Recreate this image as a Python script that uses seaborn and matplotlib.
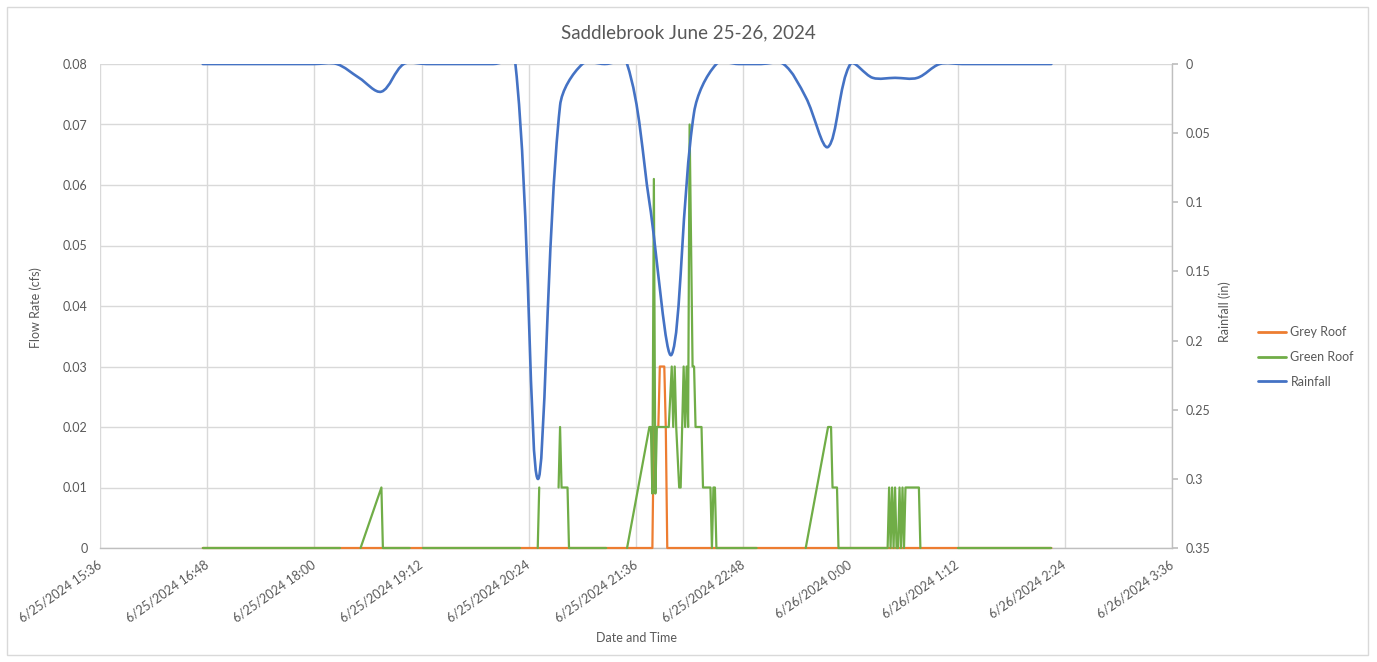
import numpy as np
import pandas as pd
import matplotlib
matplotlib.use("Agg")
import matplotlib.pyplot as plt
import matplotlib.dates as mdates
from matplotlib.path import Path
from matplotlib.patches import PathPatch, Rectangle
from matplotlib.lines import Line2D
import seaborn as sns

# ---------------- data ----------------
title = "Saddlebrook June 25-26, 2024"

# Rainfall (in), 15-minute readings from 6/25 16:45 to 6/26 02:15
rain_times = pd.date_range("2024-06-25 16:45", "2024-06-26 02:15", freq="15min")
rain_in = [0, 0, 0, 0, 0, 0, 0, 0.01, 0.02, 0,
           0, 0, 0, 0, 0, 0.30, 0.03, 0, 0, 0,
           0.10, 0.21, 0.035, 0, 0, 0, 0, 0.024, 0.06, 0,
           0.01, 0.01, 0.01, 0, 0, 0, 0, 0, 0]

# Grey roof flow (cfs)
grey_times = ["2024-06-25 16:45", "2024-06-25 21:47", "2024-06-25 21:48",
              "2024-06-25 21:51", "2024-06-25 21:52", "2024-06-25 21:55",
              "2024-06-25 21:56", "2024-06-25 21:57", "2024-06-26 02:15"]
grey_cfs = [0, 0, 0.02, 0.02, 0.03, 0.03, 0.02, 0, 0]

# Green roof flow (cfs); NaN marks a break in the record
green_times = ["2024-06-25 16:45", "2024-06-25 18:17", None,
               "2024-06-25 18:31", "2024-06-25 18:45", "2024-06-25 18:46", "2024-06-25 19:04", None,
               "2024-06-25 19:13", "2024-06-25 20:18", None,
               "2024-06-25 20:30", "2024-06-25 20:31", None,
               "2024-06-25 20:44", "2024-06-25 20:45", "2024-06-25 20:46", "2024-06-25 20:50",
               "2024-06-25 20:51", "2024-06-25 21:16", None,
               "2024-06-25 21:30", "2024-06-25 21:45", "2024-06-25 21:46", "2024-06-25 21:47",
               "2024-06-25 21:48", "2024-06-25 21:49", "2024-06-25 21:50", "2024-06-25 21:58",
               "2024-06-25 22:00", "2024-06-25 22:01", "2024-06-25 22:02", "2024-06-25 22:03",
               "2024-06-25 22:05", "2024-06-25 22:06", "2024-06-25 22:07", "2024-06-25 22:08",
               "2024-06-25 22:09", "2024-06-25 22:10", "2024-06-25 22:11", "2024-06-25 22:12",
               "2024-06-25 22:14", "2024-06-25 22:15", "2024-06-25 22:16", "2024-06-25 22:20",
               "2024-06-25 22:21", "2024-06-25 22:26", "2024-06-25 22:27", "2024-06-25 22:28",
               "2024-06-25 22:29", "2024-06-25 22:30", "2024-06-25 22:57", None,
               "2024-06-25 23:30", "2024-06-25 23:45", "2024-06-25 23:47", "2024-06-25 23:48",
               "2024-06-25 23:51", "2024-06-25 23:52", "2024-06-26 00:25", "2024-06-26 00:26",
               "2024-06-26 00:27", "2024-06-26 00:28", "2024-06-26 00:29", "2024-06-26 00:30",
               "2024-06-26 00:31", "2024-06-26 00:32", "2024-06-26 00:33", "2024-06-26 00:34",
               "2024-06-26 00:35", "2024-06-26 00:36", "2024-06-26 00:37", "2024-06-26 00:46",
               "2024-06-26 00:47", None,
               "2024-06-26 01:12", "2024-06-26 02:15"]
green_cfs = [0, 0, np.nan,
             0, 0.01, 0, 0, np.nan,
             0, 0, np.nan,
             0, 0.01, np.nan,
             0.01, 0.02, 0.01, 0.01,
             0, 0, np.nan,
             0, 0.02, 0.02, 0.009,
             0.061, 0.009, 0.02, 0.02,
             0.03, 0.02, 0.03, 0.02,
             0.01, 0.01, 0.02, 0.03,
             0.02, 0.03, 0.02, 0.07,
             0.03, 0.03, 0.02, 0.02,
             0.01, 0.01, 0, 0.01,
             0.01, 0, 0, np.nan,
             0, 0.02, 0.02, 0.01,
             0.01, 0, 0, 0.01,
             0, 0.01, 0, 0.01,
             0, 0, 0.01, 0,
             0.01, 0, 0.01, 0.01,
             0, np.nan,
             0, 0]

x_ticks = pd.date_range("2024-06-25 15:36", "2024-06-26 03:36", freq="72min")
x_tick_labels = ["6/25/2024 15:36", "6/25/2024 16:48", "6/25/2024 18:00", "6/25/2024 19:12",
                 "6/25/2024 20:24", "6/25/2024 21:36", "6/25/2024 22:48", "6/26/2024 0:00",
                 "6/26/2024 1:12", "6/26/2024 2:24", "6/26/2024 3:36"]
flow_ticks = [0, 0.01, 0.02, 0.03, 0.04, 0.05, 0.06, 0.07, 0.08]
flow_labels = ["0", "0.01", "0.02", "0.03", "0.04", "0.05", "0.06", "0.07", "0.08"]
rain_ticks = [0, 0.05, 0.1, 0.15, 0.2, 0.25, 0.3, 0.35]
rain_labels = ["0", "0.05", "0.1", "0.15", "0.2", "0.25", "0.3", "0.35"]
series_names = ["Grey Roof", "Green Roof", "Rainfall"]

# ---------------- style ----------------
ORANGE, GREEN, BLUE = "#ED7D31", "#70AD47", "#4472C4"
TXT, GRID = "#595959", "#d9d9d9"
sns.set_theme(style="white")
plt.rcParams["font.family"] = ["Lato", "DejaVu Sans"]

W, H = 1377, 662
fig = plt.figure(figsize=(W / 100, H / 100), dpi=100)
L, R, T, B = 100, 1172, 64, 548
ax = fig.add_axes([L / W, 1 - B / H, (R - L) / W, (B - T) / H])

# frames for seaborn
grey_df = pd.DataFrame({"time": pd.to_datetime(grey_times), "cfs": grey_cfs, "seg": 0})
g = pd.DataFrame({"time": pd.to_datetime(green_times), "cfs": green_cfs})
g["seg"] = g["cfs"].isna().cumsum()
g = g.dropna()

sns.lineplot(data=grey_df, x="time", y="cfs", units="seg", estimator=None,
             color=ORANGE, lw=1.6, ax=ax, legend=False, clip_on=False, zorder=3)
sns.lineplot(data=g, x="time", y="cfs", units="seg", estimator=None,
             color=GREEN, lw=1.6, ax=ax, legend=False, clip_on=False, zorder=3)

ax.set_xlim(x_ticks[0], x_ticks[-1])
ax.set_ylim(0, 0.08)
ax.set_xticks(x_ticks)
ax.set_xticklabels(x_tick_labels, rotation=35, ha="right", va="center",
                   rotation_mode="anchor", color=TXT, fontsize=9)
ax.set_yticks(flow_ticks)
ax.set_yticklabels(flow_labels, color=TXT, fontsize=9)
ax.tick_params(axis="x", length=0, pad=11)
ax.tick_params(axis="y", length=0, pad=9)
ax.grid(True, color=GRID, lw=1)
ax.set_xlabel("")
ax.set_ylabel("")
for s in ["left", "top", "right"]:
    ax.spines[s].set_visible(False)
ax.spines["bottom"].set_color("#bfbfbf")
ax.spines["bottom"].set_linewidth(1)

# rainfall on secondary (inverted) axis, smoothed like the spreadsheet line
ax2 = ax.twinx()
ax2.set_ylim(0.35, 0)
ax2.set_xlim(x_ticks[0], x_ticks[-1])
xs = mdates.date2num(rain_times.to_pydatetime())
ys = np.asarray(rain_in, dtype=float)
P = ax2.transData.transform(np.column_stack([xs, ys]))  # display space
n = len(P)
cin = np.zeros_like(P)
cout = np.zeros_like(P)
for i in range(n):
    a = P[max(i - 1, 0)]
    b = P[min(i + 1, n - 1)]
    d = b - a
    l_in = np.hypot(*(P[i] - a))
    l_out = np.hypot(*(b - P[i]))
    s = l_in + l_out
    if s == 0:
        cin[i] = cout[i] = P[i]
        continue
    cout[i] = P[i] + d * (l_out / s) / 3.0
    cin[i] = P[i] - d * (l_in / s) / 3.0
disp_verts = [P[0]]
codes = [Path.MOVETO]
for i in range(n - 1):
    disp_verts += [cout[i], cin[i + 1], P[i + 1]]
    codes += [Path.CURVE4] * 3
data_verts = ax2.transData.inverted().transform(np.array(disp_verts))
ax2.add_patch(PathPatch(Path(data_verts, codes), facecolor="none", edgecolor=BLUE,
                        lw=1.9, capstyle="round", joinstyle="round"))
ax2.set_yticks(rain_ticks)
ax2.set_yticklabels(rain_labels, color=TXT, fontsize=9)
ax2.tick_params(axis="y", length=4, color="#bfbfbf", pad=6, direction="out")
ax2.grid(False)
for s in ["left", "top", "bottom"]:
    ax2.spines[s].set_visible(False)
ax2.spines["right"].set_color("#bfbfbf")
ax2.spines["right"].set_linewidth(1)

# texts
fig.text(688 / W, 1 - 33 / H, title, ha="center", va="center", fontsize=13.5, color=TXT)
fig.text(36 / W, 1 - 308 / H, "Flow Rate (cfs)", rotation=90, ha="center", va="center",
         fontsize=9, color=TXT)
fig.text(1225 / W, 1 - 312 / H, "Rainfall (in)", rotation=90, ha="center", va="center",
         fontsize=9, color=TXT)
fig.text(636 / W, 1 - 638 / H, "Date and Time", ha="center", va="center",
         fontsize=9, color=TXT)

handles = [Line2D([], [], color=c, lw=2) for c in (ORANGE, GREEN, BLUE)]
leg = fig.legend(handles, series_names, loc="center left",
                 bbox_to_anchor=(1258 / W, 1 - 357 / H), frameon=False,
                 borderpad=0, borderaxespad=0, handlelength=2.2, handletextpad=0.4,
                 labelspacing=1.0, fontsize=9)
for t in leg.get_texts():
    t.set_color(TXT)

fig.patches.append(Rectangle((7 / W, 7 / H), (1368 - 7) / W, (655 - 7) / H,
                             transform=fig.transFigure, fill=False,
                             edgecolor=GRID, lw=1))

fig.savefig("out.png", dpi=100)
